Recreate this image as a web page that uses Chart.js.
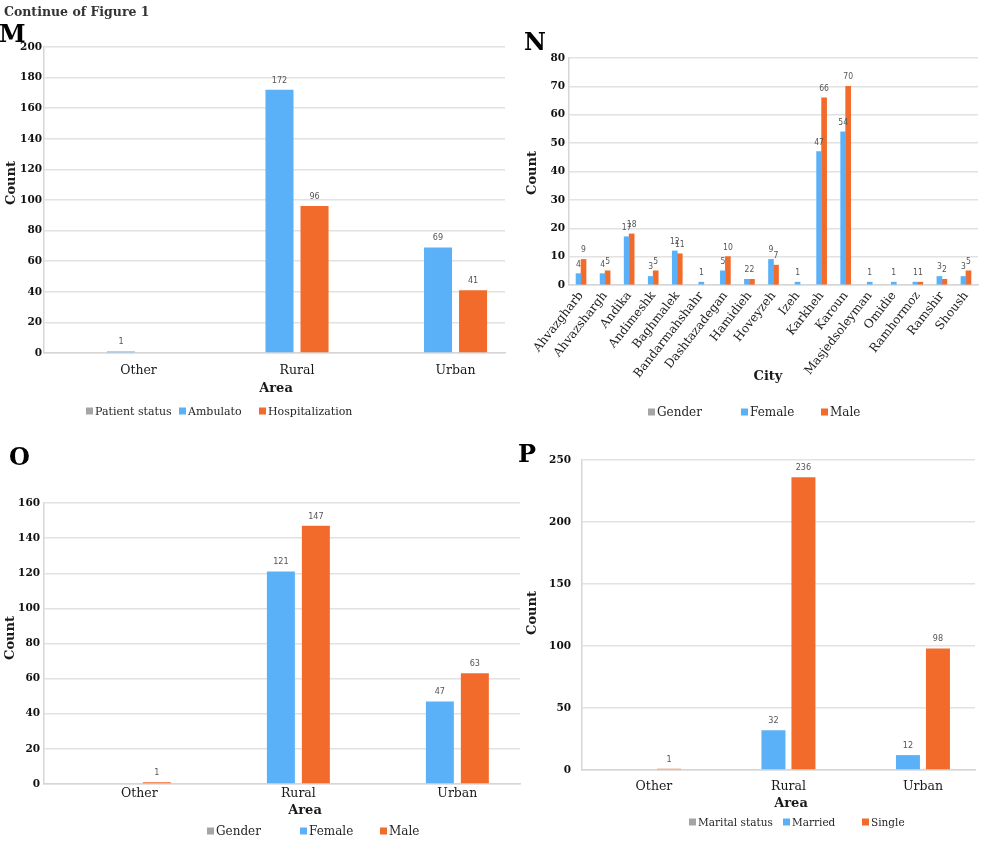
<!DOCTYPE html>
<html>
<head>
<meta charset="utf-8">
<script src="https://cdn.jsdelivr.net/npm/chart.js@4.4.1/dist/chart.umd.min.js"></script>
<style>
  html, body { margin: 0; padding: 0; background: #fff; }
  body { width: 1000px; height: 845px; position: relative; overflow: hidden; }
  canvas { position: absolute; }
</style>
</head>
<body>
<canvas id="chartM" width="508" height="420" style="left:0;top:0"></canvas>
<canvas id="chartN" width="485" height="420" style="left:515px;top:0"></canvas>
<canvas id="chartO" width="525" height="425" style="left:0;top:420px"></canvas>
<canvas id="chartP" width="490" height="425" style="left:510px;top:420px"></canvas>
<script>
// categories
const areas = ["Other", "Rural", "Urban"];
const cities = ["Ahvazgharb", "Ahvazshargh", "Andika", "Andimeshk", "Baghmalek", "Bandarmahshahr",
    "Dashtazadegan", "Hamidieh", "Hoveyzeh", "Izeh", "Karkheh", "Karoun", "Masjedsoleyman",
    "Omidie", "Ramhormoz", "Ramshir", "Shoush"];

// M: patient status by area
const patientStatus = [null, null, null];
const ambulato = [1, 172, 69];
const hospitalization = [null, 96, 41];

// N: gender by city
const genderByCity = [null, null, null, null, null, null, null, null, null, null, null, null, null, null, null, null, null];
const femaleByCity = [4, 4, 17, 3, 12, 1, 5, 2, 9, 1, 47, 54, 1, 1, 1, 3, 3];
const maleByCity = [9, 5, 18, 5, 11, null, 10, 2, 7, null, 66, 70, null, null, 1, 2, 5];

// O: gender by area
const genderByArea = [null, null, null];
const femaleByArea = [null, 121, 47];
const maleByArea = [1, 147, 63];

// P: marital status by area
const maritalStatus = [null, null, null];
const married = [null, 32, 12];
const single = [1, 236, 98];

// y tick labels
const yTicksM = [0, 20, 40, 60, 80, 100, 120, 140, 160, 180, 200];
const yTicksN = [0, 10, 20, 30, 40, 50, 60, 70, 80];
const yTicksO = [0, 20, 40, 60, 80, 100, 120, 140, 160];
const yTicksP = [0, 50, 100, 150, 200, 250];

const GRAY = "#a5a5a5";
const BLUE = "#5bb1f7";
const ORANGE = "#f36b2a";
const GRID = "#e2e2e2";
const SERIF = '"DejaVu Serif", "Liberation Serif", serif';
const NARROW = '"Liberation Sans Narrow", "DejaVu Sans Condensed", sans-serif';

const panelText = {
    id: "panelText",
    afterDraw(chart, args, opts) {
        const ctx = chart.ctx;
        (opts.items || []).forEach(t => {
            ctx.save();
            ctx.font = t.font;
            ctx.fillStyle = t.color || "#1a1a1a";
            ctx.textAlign = t.align || "center";
            ctx.textBaseline = t.baseline || "middle";
            ctx.translate(t.x, t.y);
            if (t.rotate) ctx.rotate(t.rotate);
            ctx.fillText(t.text, 0, 0);
            ctx.restore();
        });
        const lg = opts.legend;
        if (!lg) return;
        ctx.save();
        ctx.font = lg.font;
        ctx.textAlign = "left";
        ctx.textBaseline = "middle";
        chart.data.datasets.forEach((ds, i) => {
            const x = lg.x[i];
            ctx.fillStyle = ds.backgroundColor;
            ctx.fillRect(x, lg.y - lg.box / 2, lg.box, lg.box);
            ctx.fillStyle = "#262626";
            ctx.fillText(ds.label, x + lg.box + 2, lg.y + 1);
        });
        ctx.restore();
    }
};

const valueLabels = {
    id: "valueLabels",
    afterDatasetsDraw(chart, args, opts) {
        const ctx = chart.ctx;
        ctx.save();
        ctx.font = opts.font;
        ctx.fillStyle = "#555";
        ctx.textAlign = "center";
        ctx.textBaseline = "bottom";
        chart.data.datasets.forEach((ds, i) => {
            if (ds.grouped === false) return;
            chart.getDatasetMeta(i).data.forEach((bar, j) => {
                const raw = ds.data[j];
                const v = raw !== null && typeof raw === "object" ? raw.y : raw;
                if (v === null || v === undefined) return;
                ctx.fillText(String(v), bar.x, bar.y - opts.offset);
            });
        });
        ctx.restore();
    }
};

function yAxis(p) {
    return {
        min: 0,
        max: p.yTicks[p.yTicks.length - 1],
        afterBuildTicks: s => { s.ticks = p.yTicks.map(v => ({ value: v })); },
        afterFit: s => { s.width = p.area.left; },
        grid: { color: GRID, lineWidth: 1.5, drawTicks: false },
        border: { color: "#d6d6d6", width: 1.5 },
        ticks: { padding: p.yPad, color: "#111", font: { family: SERIF, size: 10.5, weight: "bold" } }
    };
}

function areaChart(id, p) {
    return new Chart(document.getElementById(id), {
        type: "bar",
        data: {
            datasets: p.series.map(s => ({
                label: s.label,
                backgroundColor: s.color,
                grouped: s.grouped !== false,
                data: s.values.map((v, i) => ({ x: i, y: v })),
                categoryPercentage: p.cat,
                barPercentage: 0.8
            }))
        },
        options: {
            responsive: false,
            animation: false,
            events: [],
            layout: { padding: { top: p.area.top, right: p.w - p.area.right, left: 0, bottom: 0 } },
            plugins: {
                legend: { display: false },
                tooltip: { enabled: false },
                panelText: { items: p.texts, legend: p.legend },
                valueLabels: { font: "9px " + NARROW, offset: 5 }
            },
            scales: {
                x: {
                    type: "linear",
                    bounds: "data",
                    offset: false,
                    min: p.xMin,
                    max: p.xMax,
                    afterBuildTicks: s => { s.ticks = areas.map((a, i) => ({ value: i })); },
                    afterFit: s => { s.height = p.h - p.area.bottom; },
                    grid: { display: false, drawTicks: false },
                    border: { color: "#d6d6d6", width: 1.5 },
                    ticks: {
                        autoSkip: false, maxRotation: 0, padding: p.xPad, color: "#1a1a1a",
                        font: { family: SERIF, size: 12.5 },
                        callback: v => areas[v]
                    }
                },
                y: yAxis(p)
            }
        },
        plugins: [panelText, valueLabels]
    });
}

const bold = size => `bold ${size}px ${SERIF}`;

areaChart("chartM", {
    w: 508, h: 420,
    area: { left: 44, top: 47, right: 505, bottom: 353 },
    xMin: -0.596, xMax: 2.312, cat: 0.442, xPad: 10, yPad: 2,
    yTicks: yTicksM,
    series: [
        { label: "Patient status", color: GRAY, values: patientStatus, grouped: false },
        { label: "Ambulato", color: BLUE, values: ambulato },
        { label: "Hospitalization", color: ORANGE, values: hospitalization }
    ],
    texts: [
        { text: "Continue of Figure 1", x: 4, y: 16, font: bold(12.5), align: "left", baseline: "alphabetic", color: "#333" },
        { text: "M", x: -1, y: 42, font: bold(24), align: "left", baseline: "alphabetic", color: "#000" },
        { text: "Count", x: 12, y: 183, font: bold(13), rotate: -Math.PI / 2 },
        { text: "Area", x: 276, y: 389, font: bold(13) }
    ],
    legend: { x: [86, 179, 259], y: 411, box: 7, font: `11px ${SERIF}` }
});

new Chart(document.getElementById("chartN"), {
    type: "bar",
    data: {
        labels: cities,
        datasets: [
            { label: "Gender", backgroundColor: GRAY, data: genderByCity, grouped: false },
            { label: "Female", backgroundColor: BLUE, data: femaleByCity },
            { label: "Male", backgroundColor: ORANGE, data: maleByCity }
        ].map(ds => Object.assign(ds, { barThickness: 5, skipNull: true }))
    },
    options: {
        responsive: false,
        animation: false,
        events: [],
        layout: { padding: { top: 58, right: 22, left: 0, bottom: 0 } },
        plugins: {
            legend: { display: false },
            tooltip: { enabled: false },
            panelText: {
                items: [
                    { text: "N", x: 9, y: 50, font: bold(24), align: "left", baseline: "alphabetic", color: "#000" },
                    { text: "Count", x: 18, y: 173, font: bold(13), rotate: -Math.PI / 2 },
                    { text: "City", x: 253, y: 377, font: bold(13) }
                ],
                legend: { x: [133, 226, 306], y: 412, box: 7, font: `12px ${SERIF}` }
            },
            valueLabels: { font: "8.5px " + NARROW, offset: 5 }
        },
        scales: {
            x: {
                type: "category",
                offset: true,
                afterFit: s => { s.height = 420 - 285; },
                grid: { display: false, drawTicks: false },
                border: { color: "#d6d6d6", width: 1.5 },
                ticks: { autoSkip: false, minRotation: 52, maxRotation: 52, padding: 4, color: "#1a1a1a", font: { family: SERIF, size: 12 } }
            },
            y: yAxis({ yTicks: yTicksN, area: { left: 54 }, yPad: 4 })
        }
    },
    plugins: [panelText, valueLabels]
});

areaChart("chartO", {
    w: 525, h: 425,
    area: { left: 44, top: 83, right: 520, bottom: 364 },
    xMin: -0.6, xMax: 2.394, cat: 0.44, xPad: 2, yPad: 4,
    yTicks: yTicksO,
    series: [
        { label: "Gender", color: GRAY, values: genderByArea, grouped: false },
        { label: "Female", color: BLUE, values: femaleByArea },
        { label: "Male", color: ORANGE, values: maleByArea }
    ],
    texts: [
        { text: "O", x: 9, y: 45, font: bold(24), align: "left", baseline: "alphabetic", color: "#000" },
        { text: "Count", x: 11, y: 218, font: bold(13), rotate: -Math.PI / 2 },
        { text: "Area", x: 305, y: 391, font: bold(13) }
    ],
    legend: { x: [207, 300, 380], y: 411, box: 7, font: `12px ${SERIF}` }
});

areaChart("chartP", {
    w: 490, h: 425,
    area: { left: 72, top: 40, right: 465, bottom: 350 },
    xMin: -0.535, xMax: 2.387, cat: 0.446, xPad: 9, yPad: 11,
    yTicks: yTicksP,
    series: [
        { label: "Marital status", color: GRAY, values: maritalStatus, grouped: false },
        { label: "Married", color: BLUE, values: married },
        { label: "Single", color: ORANGE, values: single }
    ],
    texts: [
        { text: "P", x: 8, y: 42, font: bold(24), align: "left", baseline: "alphabetic", color: "#000" },
        { text: "Count", x: 23, y: 193, font: bold(13), rotate: -Math.PI / 2 },
        { text: "Area", x: 281, y: 384, font: bold(13) }
    ],
    legend: { x: [179, 273, 352], y: 402, box: 7, font: `10.5px ${SERIF}` }
});
</script>
</body>
</html>
